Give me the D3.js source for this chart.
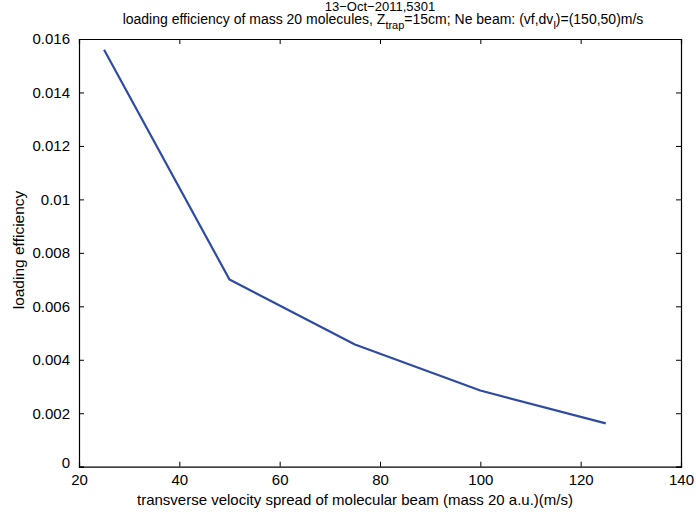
<!DOCTYPE html>
<html>
<head>
<meta charset="utf-8">
<script src="https://cdn.jsdelivr.net/npm/d3@7"></script>
<style>
  body { margin: 0; background: #fff; }
  text { font-family: "Liberation Sans", Arial, sans-serif; fill: #000; }
</style>
</head>
<body>
<div id="chart"></div>
<script>
// Data
const spread = [25, 50, 75, 100, 125];
const efficiency = [0.0156, 0.0070, 0.00457, 0.00285, 0.00162];
const xTicks = [20, 40, 60, 80, 100, 120, 140];
const yTicks = [0, 0.002, 0.004, 0.006, 0.008, 0.01, 0.012, 0.014, 0.016];

const data = spread.map((s, i) => ({ x: s, y: efficiency[i] }));

const W = 696, H = 512;
const margin = { top: 39, right: 15, bottom: 45, left: 79 };
const width = 681 - margin.left;
const height = 466.7 - margin.top;

const svg = d3.select("#chart")
    .append("svg")
    .attr("width", W)
    .attr("height", H);

const g = svg.append("g")
    .attr("transform", `translate(${margin.left},${margin.top})`);

// Scales
const x = d3.scaleLinear().domain([20, 140]).range([0, width]);
const y = d3.scaleLinear().domain([0, 0.016]).range([height, 0]);

// Axes, MATLAB style ticks pointing inward
const tickLen = 5;
const fmtY = d => d === 0 ? "0" : d3.format("")(+d.toFixed(3));

const xb = g.append("g")
    .attr("transform", `translate(0,${height})`)
    .call(d3.axisBottom(x).tickValues(xTicks).tickSize(-tickLen).tickPadding(tickLen + 3));
const yl = g.append("g")
    .call(d3.axisLeft(y).tickValues(yTicks).tickSize(-tickLen).tickPadding(tickLen + 4).tickFormat(fmtY));
const xt = g.append("g")
    .call(d3.axisTop(x).tickValues(xTicks).tickSize(-tickLen).tickFormat(""));
const yr = g.append("g")
    .attr("transform", `translate(${width},0)`)
    .call(d3.axisRight(y).tickValues(yTicks).tickSize(-tickLen).tickFormat(""));

[xb, yl, xt, yr].forEach(a => {
    a.select(".domain").attr("stroke", "#000").attr("stroke-width", 1.2);
    a.selectAll(".tick line").attr("stroke", "#000");
    a.selectAll("text")
        .style("font-family", "'Liberation Sans', Arial, sans-serif")
        .style("font-size", "15px")
        .attr("fill", "#000");
});
// MATLAB nudges the zero label up
yl.selectAll(".tick").filter(d => d === 0).select("text").attr("dy", "0.05em");

// Line
const line = d3.line()
    .x(d => x(d.x))
    .y(d => y(d.y));

g.append("path")
    .datum(data)
    .attr("fill", "none")
    .attr("stroke", "#2e4ba3")
    .attr("stroke-width", 2.2)
    .attr("stroke-linejoin", "round")
    .attr("d", line);

// Labels
svg.append("text")
    .attr("x", 355)
    .attr("y", 505)
    .attr("text-anchor", "middle")
    .style("font-size", "15px")
    .text("transverse velocity spread of molecular beam (mass 20 a.u.)(m/s)");

svg.append("text")
    .attr("transform", "rotate(-90)")
    .attr("x", -250)
    .attr("y", 24)
    .attr("text-anchor", "middle")
    .style("font-size", "15.5px")
    .text("loading efficiency");

// Title
svg.append("text")
    .attr("x", 380)
    .attr("y", 11)
    .attr("text-anchor", "middle")
    .style("font-size", "13px")
    .text("13\u2212Oct\u22122011,5301");

const t2 = svg.append("text")
    .attr("x", 383)
    .attr("y", 24)
    .attr("text-anchor", "middle")
    .style("font-size", "14px");
t2.append("tspan").text("loading efficiency of mass 20 molecules, Z");
t2.append("tspan").attr("dy", 5).style("font-size", "11px").text("trap");
t2.append("tspan").attr("dy", -5).text("=15cm; Ne beam: (vf,dv");
t2.append("tspan").attr("dy", 5).style("font-size", "11px").text("l");
t2.append("tspan").attr("dy", -5).text(")=(150,50)m/s");
</script>
</body>
</html>
